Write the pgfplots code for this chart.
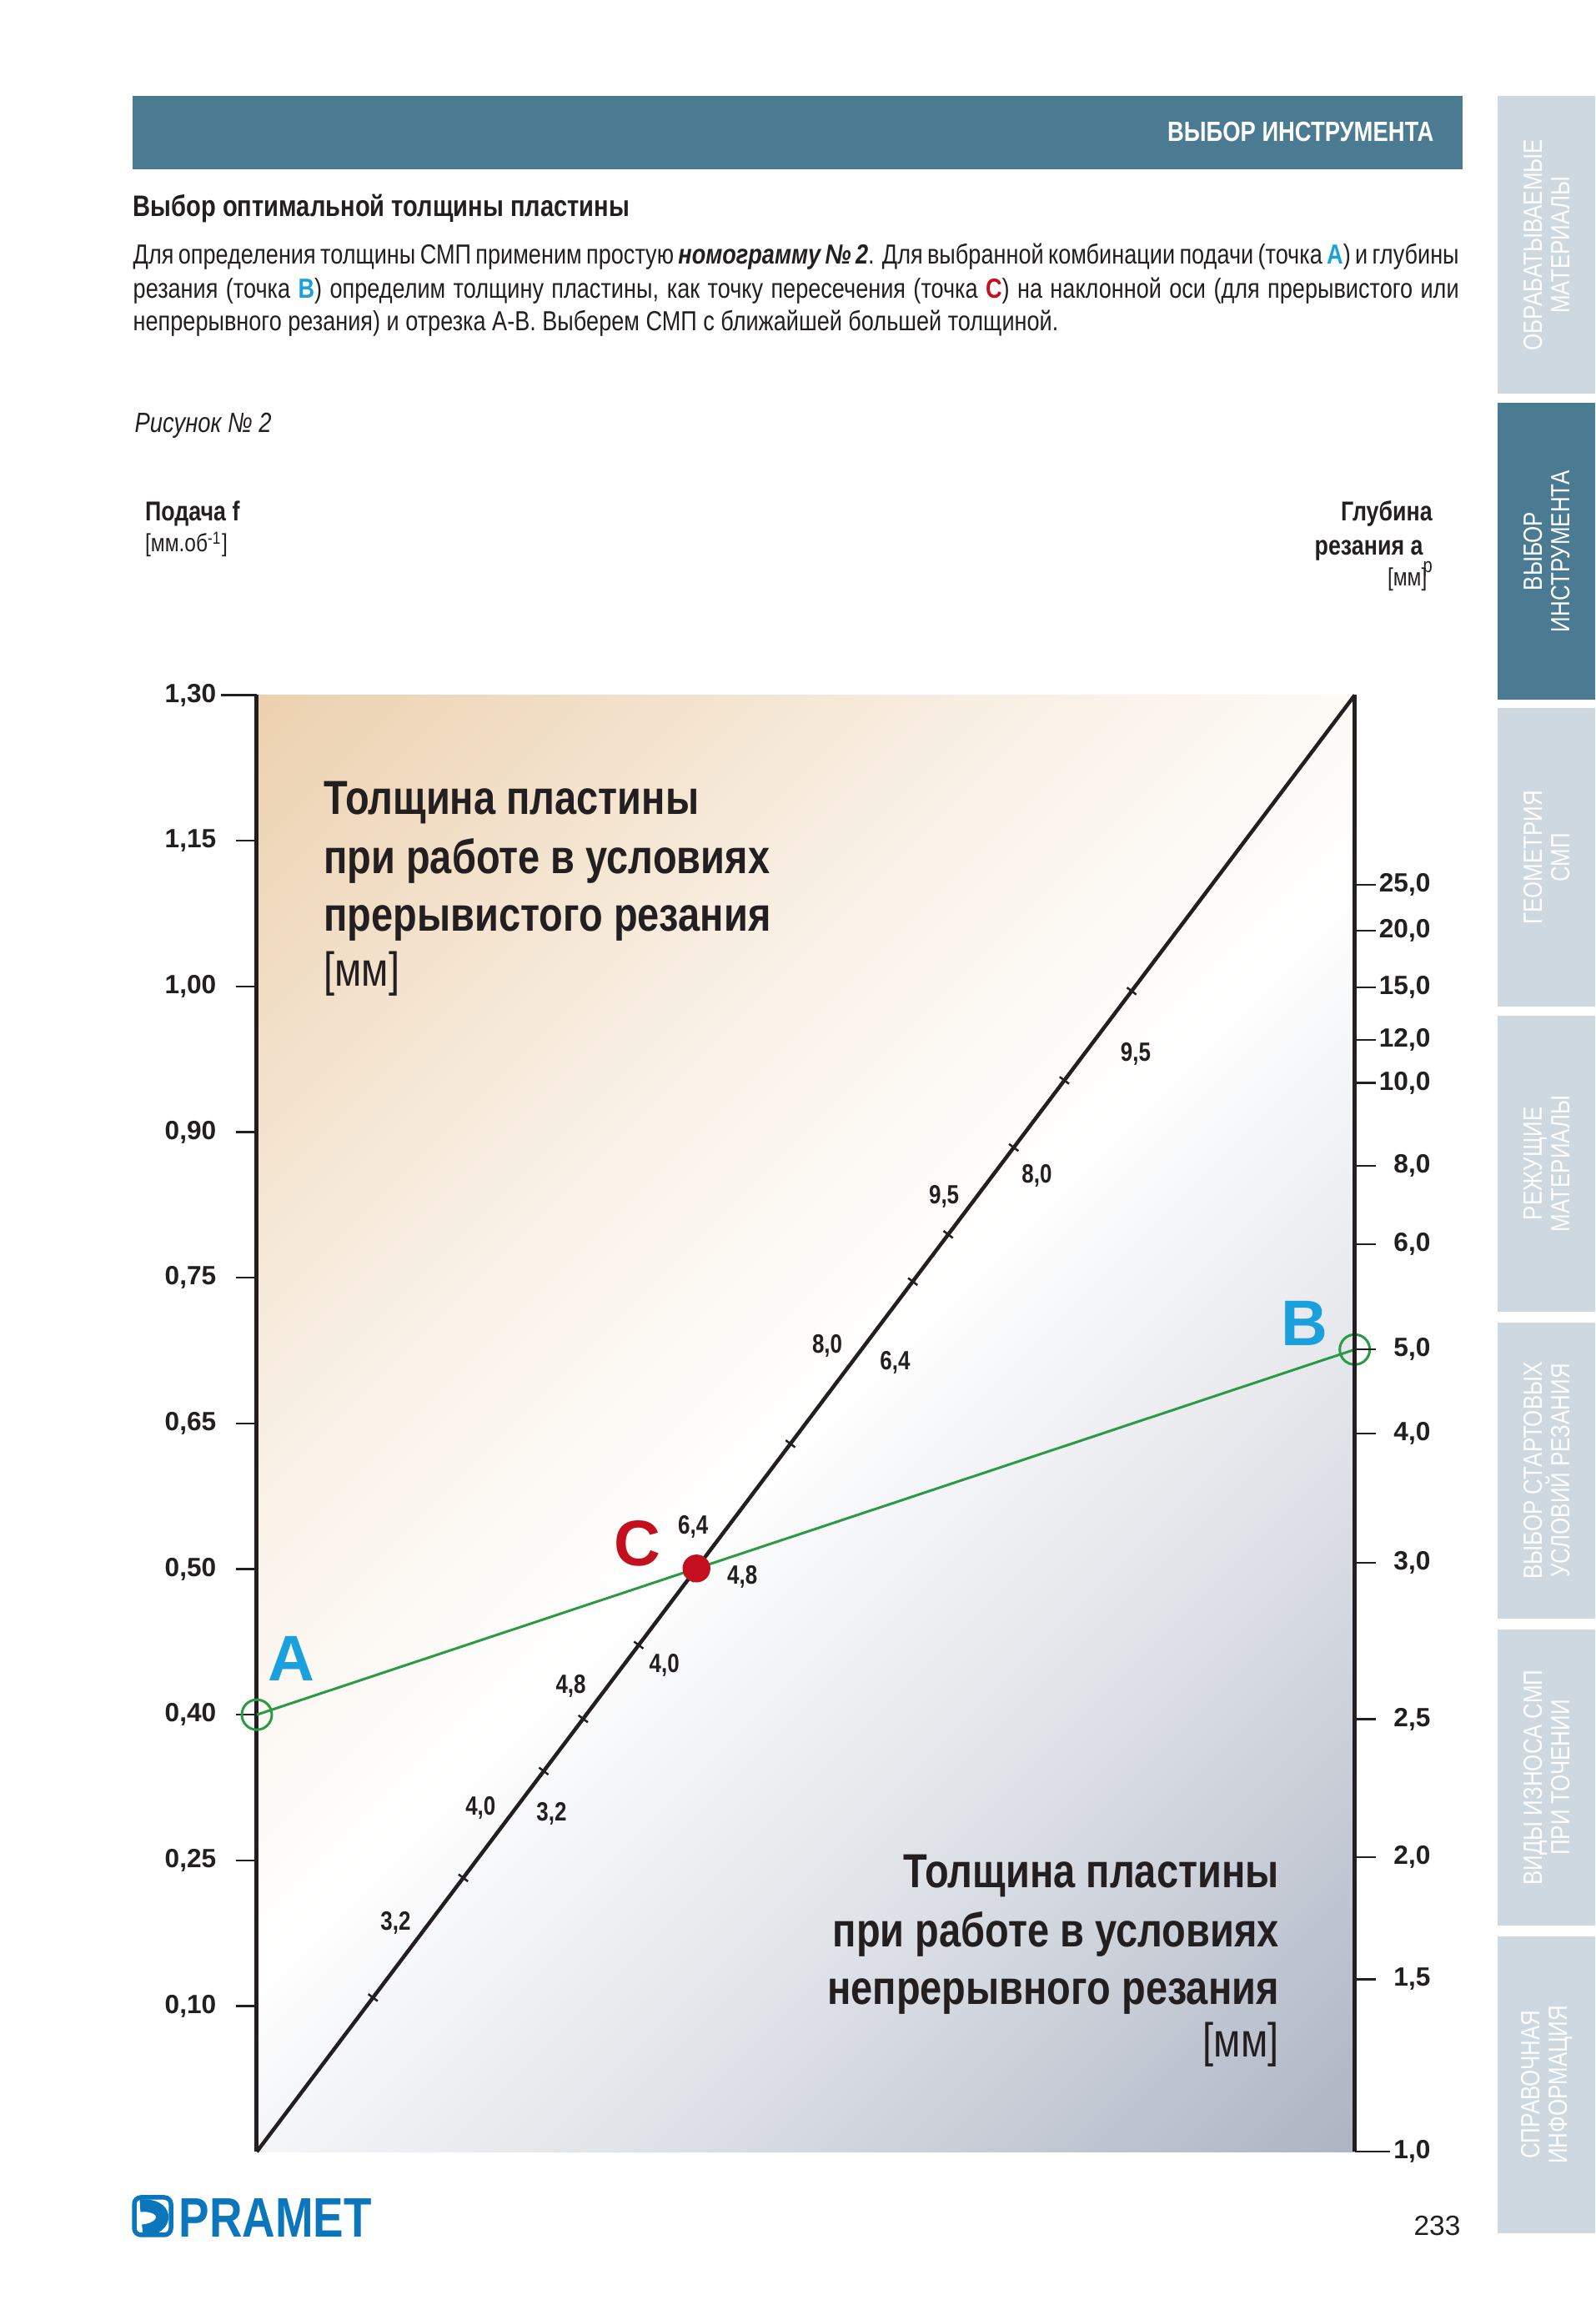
\documentclass[border=0pt]{standalone}
\usepackage{pgfplots}
\pgfplotsset{compat=1.18}
\usepackage{fontspec}
\setmainfont{Liberation Sans}
\newfontfamily\cond[FakeStretch=0.82]{Liberation Sans}
\definecolor{ink}{HTML}{231F20}
\definecolor{steel}{HTML}{4A7B92}
\definecolor{tabc}{HTML}{CDD8E1}
\definecolor{tanc}{HTML}{EBCFAB}
\definecolor{greyb}{HTML}{A9B1C0}
\definecolor{grn}{HTML}{2A9A45}
\definecolor{redc}{HTML}{C40F1E}
\definecolor{bluec}{HTML}{1BA0DE}
\definecolor{logob}{HTML}{0B76BC}
\pgfdeclareverticalshading{bgshade}{100bp}{color(0bp)=(greyb); color(13bp)=(greyb); color(34bp)=(greyb!38!white); color(50bp)=(white); color(64bp)=(tanc!30!white); color(87bp)=(tanc); color(100bp)=(tanc)}
\newcommand{\sidetab}[4]{%
  \fill[#3] (1796,#2) rectangle (1913,#1);
  \node[rotate=90, align=center, text=white, inner sep=0pt, font=\cond\fontsize{9}{9.4}\selectfont] at (1854.7,{(#1+#2)/2}) {#4};}
\begin{document}
\begin{tikzpicture}
\path[use as bounding box] (0,0) rectangle (191.3mm,277.6mm);
\begin{scope}[x=0.1mm,y=0.1mm]
% header
\fill[steel] (159.3,2572.5) rectangle (1753.8,2661);
\node[anchor=base east, inner sep=0pt, text=white, font=\cond\bfseries\fontsize{9.5}{11}\selectfont] at (1720,2606) {ВЫБОР ИНСТРУМЕНТА};
% side tabs
\sidetab{2661}{2303.5}{tabc}{ОБРАБАТЫВАЕМЫЕ\\МАТЕРИАЛЫ}
\sidetab{2293}{1937}{steel}{ВЫБОР\\ИНСТРУМЕНТА}
\sidetab{1926.5}{1569}{tabc}{ГЕОМЕТРИЯ\\СМП}
\sidetab{1558.4}{1203}{tabc}{РЕЖУЩИЕ\\МАТЕРИАЛЫ}
\sidetab{1190.4}{834.6}{tabc}{ВЫБОР СТАРТОВЫХ\\УСЛОВИЙ РЕЗАНИЯ}
\sidetab{822.3}{466.5}{tabc}{ВИДЫ ИЗНОСА СМП\\ПРИ ТОЧЕНИИ}
\sidetab{454}{98.4}{tabc}{СПРАВОЧНАЯ\\ИНФОРМАЦИЯ}
% title and paragraph
\node[anchor=base west, inner sep=0pt, text=ink, font=\cond\bfseries\fontsize{10.1}{12}\selectfont] at (159,2516) {Выбор оптимальной толщины пластины};
\node[anchor=base west, inner sep=0pt, text=ink, font=\cond\fontsize{9.4}{11}\selectfont] at (159,2459.2) {\makebox[159mm][s]{Для определения толщины СМП применим простую \textbf{\textit{номограмму №~2}}. Для выбранной комбинации подачи (точка {\color{bluec}\textbf{A}}) и глубины}};
\node[anchor=base west, inner sep=0pt, text=ink, font=\cond\fontsize{9.4}{11}\selectfont] at (159,2418.5) {\makebox[159mm][s]{резания (точка {\color{bluec}\textbf{B}}) определим толщину пластины, как точку пересечения (точка {\color{redc}\textbf{C}}) на наклонной оси (для прерывистого или}};
\node[anchor=base west, inner sep=0pt, text=ink, font=\cond\fontsize{9.4}{11}\selectfont] at (159,2379.6) {непрерывного резания) и отрезка А-В. Выберем СМП с ближайшей большей толщиной.};
\node[anchor=base west, inner sep=0pt, text=ink, font=\cond\itshape\fontsize{9.5}{11}\selectfont] at (161,2257.5) {Рисунок №~2};
% axis titles
\node[anchor=base west, inner sep=0pt, text=ink, font=\cond\bfseries\fontsize{9.3}{11}\selectfont] at (173.4,2151.3) {Подача f};
\node[anchor=base west, inner sep=0pt, text=ink, font=\cond\fontsize{8.5}{10}\selectfont] at (173.4,2114) {[мм.об\textsuperscript{-1}]};
\node[anchor=base east, inner sep=0pt, text=ink, font=\cond\bfseries\fontsize{9.3}{11}\selectfont] at (1718.4,2151.3) {Глубина};
\node[anchor=base east, inner sep=0pt, text=ink, font=\cond\bfseries\fontsize{9.3}{11}\selectfont] at (1718.4,2110.6) {резания a\raisebox{-1.2ex}{\fontsize{7}{8}\selectfont\mdseries p}};
\node[anchor=base east, inner sep=0pt, text=ink, font=\cond\fontsize{8.5}{10}\selectfont] at (1712,2073.4) {[мм]};
% background gradient
\shade[shading=bgshade, shading angle=45] (308,195.8) rectangle (1624.6,1942.5);
\end{scope}
% left axis with data
\begin{axis}[
  at={(30.8mm,19.58mm)}, anchor=south west,
  scale only axis, width=131.67mm, height=174.67mm,
  xmin=0, xmax=1, ymin=0, ymax=10,
  clip=false,
  axis x line=none,
  axis y line*=left,
  axis line style={line width=0.5mm, ink},
  ytick={1,2,3,4,5,6,7,8,9,10},
  yticklabels={{0,10},{0,25},{0,40},{0,50},{0,65},{0,75},{0,90},{1,00},{1,15},{1,30}},
  tick align=outside,
  major tick length=2.5mm,
  tick style={line width=0.22mm, ink},
  yticklabel style={font=\bfseries\fontsize{9}{10}\selectfont, text=ink, anchor=east, inner sep=0pt, xshift=-2.3mm},
  extra y ticks={10},
  extra y tick labels={},
  extra y tick style={major tick length=4.25mm},
]
\addplot[ink, line width=0.45mm] coordinates {(0,0) (1,10)};
\addplot[only marks, mark=|, mark size=0.7mm, mark options={rotate=53, line width=0.25mm, ink}] coordinates {(0.1058,1.058) (0.1880,1.880) (0.2613,2.613) (0.2972,2.972) (0.3478,3.478) (0.3938,3.938) (0.4860,4.860) (0.5974,5.974) (0.6297,6.297) (0.6894,6.894) (0.7355,7.355) (0.7968,7.968)};
\addplot[grn, line width=0.3mm] coordinates {(0,3) (1,5.507)};
\addplot[only marks, mark=o, mark size=1.8mm, grn, mark options={line width=0.3mm}] coordinates {(0,3) (1,5.507)};
\addplot[only marks, mark=*, mark size=1.6mm, redc] coordinates {(0.4004,4.004)};
\begin{scope}[every node/.style={text=ink, inner sep=0pt, font=\cond\bfseries\fontsize{9}{10}\selectfont}]
\node at (0.1264,1.570) {3,2};
\node at (0.2038,2.358) {4,0};
\node at (0.2860,3.196) {4,8};
\node at (0.3974,4.291) {6,4};
\node at (0.5195,5.533) {8,0};
\node at (0.6259,6.558) {9,5};
\node at (0.2684,2.320) {3,2};
\node at (0.3712,3.342) {4,0};
\node at (0.4422,3.946) {4,8};
\node at (0.5813,5.417) {6,4};
\node at (0.7105,6.700) {8,0};
\node at (0.8005,7.538) {9,5};
\end{scope}
\node[text=bluec, inner sep=0pt, font=\bfseries\fontsize{22}{24}\selectfont] at (0.0316,3.384) {A};
\node[text=bluec, inner sep=0pt, font=\bfseries\fontsize{22}{24}\selectfont] at (0.9543,5.684) {B};
\node[text=redc, inner sep=0pt, font=\bfseries\fontsize{22}{24}\selectfont] at (0.3468,4.174) {C};
\end{axis}
% right axis
\begin{axis}[
  at={(30.8mm,19.58mm)}, anchor=south west,
  scale only axis, width=131.67mm, height=174.67mm,
  xmin=0, xmax=1, ymin=0, ymax=10,
  clip=false,
  axis x line=none,
  axis y line*=right,
  axis line style={line width=0.5mm, ink},
  ytick={0,1.183,2.023,2.969,4.045,4.930,5.508,6.229,6.767,7.338,7.633,7.994,8.381,8.696},
  yticklabels={{1,0},{1,5},{2,0},{2,5},{3,0},{4,0},{5,0},{6,0},{8,0},{10,0},{12,0},{15,0},{20,0},{25,0}},
  tick align=outside,
  major tick length=2.5mm,
  tick style={line width=0.22mm, ink},
  yticklabel style={font=\bfseries\fontsize{9}{10}\selectfont, text=ink, anchor=west, inner sep=0pt, text width=6.5mm, align=right},
  extra y ticks={0},
  extra y tick labels={},
  extra y tick style={major tick length=4.25mm},
]
\addplot[draw=none] coordinates {(1,0)};
\end{axis}
\begin{scope}[x=0.1mm,y=0.1mm]
% text blocks in plot
\begin{scope}[every node/.style={inner sep=0pt, text=ink, font=\cond\bfseries\fontsize{16.3}{20}\selectfont}]
\node[anchor=base west] at (387.6,1799.1) {Толщина пластины};
\node[anchor=base west] at (387.6,1728.3) {при работе в условиях};
\node[anchor=base west] at (387.6,1659.3) {прерывистого резания};
\node[anchor=base west, font=\cond\fontsize{16.3}{20}\selectfont] at (387.6,1593.8) {[мм]};
\node[anchor=base east] at (1534.3,512.5) {Толщина пластины};
\node[anchor=base east] at (1534.3,441.8) {при работе в условиях};
\node[anchor=base east] at (1534.3,372.7) {непрерывного резания};
\node[anchor=base east, font=\cond\fontsize{16.3}{20}\selectfont] at (1534.3,309) {[мм]};
\end{scope}
% footer
\node[anchor=base east, inner sep=0pt, text=ink, font=\fontsize{9.5}{11}\selectfont] at (1752,95) {233};
\draw[logob, line width=0.55mm, rounded corners=0.8mm] (161,96) rectangle (205,141);
\draw[logob, line width=1.5mm] (168,131) .. controls (202,134) and (204,104) .. (171,101);
\node[anchor=base west, inner sep=0pt, text=logob, font=\cond\bfseries\fontsize{19}{20}\selectfont] at (214,93) {PRAMET};
\end{scope}
\end{tikzpicture}
\end{document}
